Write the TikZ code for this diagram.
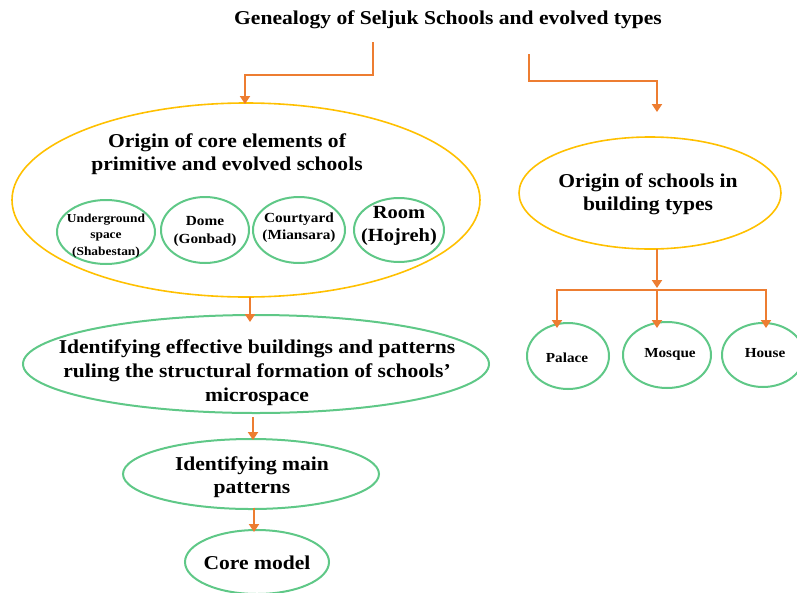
\documentclass[tikz,border=0pt]{standalone}
\usepackage{fontspec}
\setmainfont[FakeStretch=1.1]{Liberation Serif}
\usetikzlibrary{arrows.meta}
\definecolor{arrorange}{RGB}{237,125,49}
\definecolor{ringyellow}{RGB}{255,192,0}
\definecolor{ringgreen}{RGB}{95,200,135}
\tikzset{
  flow/.style={draw=arrorange, line width=2.2pt, -{Triangle[width=10pt,length=8pt]}},
  yellowring/.style={draw=ringyellow, line width=1.6pt},
  greenring/.style={draw=ringgreen, line width=2pt},
  lbl/.style={align=center, font=\bfseries, inner sep=0pt},
}
\begin{document}
\begin{tikzpicture}[x=1pt,y=-1pt]
\useasboundingbox (0,0) rectangle (797,592);
\clip (0,0) rectangle (797,592);

% title
\node[lbl, font=\bfseries\fontsize{19.6}{24}\selectfont] (title) at (448,20) {Genealogy of Seljuk Schools and evolved types};

% left branch: core elements
\draw[yellowring] (246,200) ellipse [x radius=234, y radius=97];
\node[lbl, font=\bfseries\fontsize{19.6}{23}\selectfont] (coretxt) at (227,154) {Origin of core elements of\\primitive and evolved schools};

\draw[greenring] (106,232) ellipse [x radius=49, y radius=32];
\node[lbl, font=\bfseries\fontsize{12.2}{16.5}\selectfont] (under) at (106,236) {Underground\\space\\(Shabestan)};
\draw[greenring] (205,230) ellipse [x radius=44, y radius=33];
\node[lbl, font=\bfseries\fontsize{13.9}{18}\selectfont] (dome) at (205,231) {Dome\\(Gonbad)};
\draw[greenring] (299,230) ellipse [x radius=46, y radius=33];
\node[lbl, font=\bfseries\fontsize{13.9}{17}\selectfont] (court) at (299,228) {Courtyard\\(Miansara)};
\draw[greenring] (399,230) ellipse [x radius=45, y radius=32];
\node[lbl, font=\bfseries\fontsize{18.6}{23}\selectfont] (room) at (399,226) {Room\\(Hojreh)};

% effective buildings
\draw[greenring] (256,364) ellipse [x radius=233, y radius=49];
\node[lbl, font=\bfseries\fontsize{19.6}{24}\selectfont] (effect) at (257,373) {Identifying effective buildings and patterns\\ruling the structural formation of schools'\\microspace};

% main patterns
\draw[greenring] (251,474) ellipse [x radius=128, y radius=35];
\node[lbl, font=\bfseries\fontsize{19.6}{23}\selectfont] (patt) at (252,477) {Identifying main\\patterns};

% core model
\draw[greenring] (257,562) ellipse [x radius=72, y radius=32];
\node[lbl, font=\bfseries\fontsize{19.6}{24}\selectfont] (model) at (257,563) {Core model};

% right branch: building types
\draw[yellowring] (650,193) ellipse [x radius=131, y radius=56];
\node[lbl, font=\bfseries\fontsize{19.6}{23}\selectfont] (types) at (648,194) {Origin of schools in\\building types};

\draw[greenring] (568,356) ellipse [x radius=41, y radius=33];
\node[lbl, font=\bfseries\fontsize{13.8}{18}\selectfont] (palace) at (567,358) {Palace};
\draw[greenring] (667,355) ellipse [x radius=44, y radius=33];
\node[lbl, font=\bfseries\fontsize{13.8}{18}\selectfont] (mosque) at (670,354) {Mosque};
\draw[greenring] (763,355) ellipse [x radius=41, y radius=32];
\node[lbl, font=\bfseries\fontsize{13.8}{18}\selectfont] (house) at (765,353) {House};

% connectors
\coordinate (t1) at (373,42);
\coordinate (t2) at (529,54);
\coordinate (coretop) at (245,104);
\coordinate (typestop) at (657,112);
\draw[flow] (t1) |- (309,75) -| (coretop);
\draw[flow] (t2) |- (593,81) -| (typestop);

\coordinate (corebot) at (250,297);
\coordinate (effecttop) at (250,322);
\draw[flow] (corebot) -- (effecttop);
\coordinate (effectbot) at (253,417);
\coordinate (patttop) at (253,440);
\draw[flow] (effectbot) -- (patttop);
\coordinate (pattbot) at (254,508);
\coordinate (modeltop) at (254,532);
\draw[flow] (pattbot) -- (modeltop);

\coordinate (typesbot) at (657,249);
\coordinate (bar) at (657,288);
\draw[flow] (typesbot) -- (bar);
\draw[draw=arrorange, line width=2.2pt] (557,290) -- (766,290);
\draw[flow] (557,289) -- (557,328);
\draw[flow] (657,289) -- (657,328);
\draw[flow] (766,289) -- (766,328);
\end{tikzpicture}
\end{document}
